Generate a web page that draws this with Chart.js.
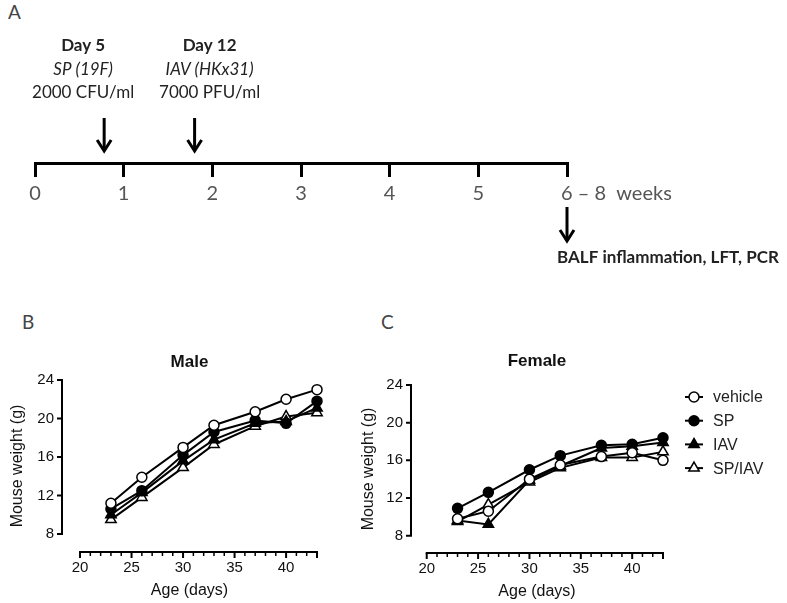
<!DOCTYPE html>
<html>
<head>
<meta charset="utf-8">
<script src="https://cdn.jsdelivr.net/npm/chart.js@4.4.1/dist/chart.umd.min.js"></script>
<style>
  html, body { margin: 0; padding: 0; background: #fff; }
  body { width: 787px; height: 603px; position: relative; overflow: hidden; }
  .box { position: absolute; }
  .panel-label { position: absolute; font-family: Lato, sans-serif; font-size: 19px; color: #444; line-height: 24px; }
</style>
</head>
<body>
<div class="panel-label" style="left:8px; top:0px;">A</div>
<div class="panel-label" style="left:22px; top:310px;">B</div>
<div class="panel-label" style="left:381px; top:310px;">C</div>
<div class="box" style="left:0; top:0; width:787px; height:290px;"><canvas id="timeline"></canvas></div>
<div class="box" style="left:0; top:340px; width:345px; height:263px;"><canvas id="male"></canvas></div>
<div class="box" style="left:345px; top:340px; width:442px; height:263px;"><canvas id="female"></canvas></div>

<script>
// Panel A: infection timeline (weeks)
const weeks = [0, 1, 2, 3, 4, 5, 6];
const lastWeekLabel = '6 \u2013 8  weeks';
const doseWeeks = [0.78, 1.8];
const doseText = [
  ['Day 5', 'SP (19F)', '2000 CFU/ml'],
  ['Day 12', 'IAV (HKx31)', '7000 PFU/ml']
];
const endpointText = 'BALF inflammation, LFT, PCR';

// Panels B and C: body weight by age
const ages = [23, 26, 30, 33, 37, 40, 43];
const seriesNames = ['vehicle', 'SP', 'IAV', 'SP/IAV'];
const maleVehicle = [11.2, 13.9, 17.0, 19.3, 20.7, 22.0, 23.0];
const maleSP      = [10.6, 12.5, 16.2, 18.6, 19.8, 19.5, 21.8];
const maleIAV     = [10.0, 12.3, 15.6, 17.8, 19.5, 19.7, 21.1];
const maleSPIAV   = [9.5, 11.8, 14.9, 17.3, 19.2, 20.2, 20.6];
const femaleVehicle = [9.8, 10.6, 14.0, 15.5, 16.4, 16.8, 16.0];
const femaleSP      = [10.9, 12.6, 15.0, 16.5, 17.6, 17.7, 18.4];
const femaleIAV     = [9.6, 9.2, 13.9, 15.4, 17.3, 17.5, 17.9];
const femaleSPIAV   = [9.5, 11.3, 13.7, 15.2, 16.3, 16.3, 16.9];
const yTicks = [8, 12, 16, 20, 24];
const xTicks = [20, 25, 30, 35, 40];
const xEnd = 43;

const markers = [
  { pointStyle: 'circle', fill: '#fff', radius: 5 },
  { pointStyle: 'circle', fill: '#000', radius: 5 },
  { pointStyle: 'triangle', fill: '#000', radius: 6 },
  { pointStyle: 'triangle', fill: '#fff', radius: 6 }
];

const SANS = '"Liberation Sans", Arial, sans-serif';

// draws the separated Prism-style axes, panel title and (optional) legend
const prismAxes = {
  id: 'prismAxes',
  beforeDatasetsDraw(chart, args, o) {
    const { ctx, chartArea, scales: { x, y } } = chart;
    ctx.save();
    ctx.strokeStyle = '#000';
    ctx.lineWidth = 2;
    // y axis
    const left = chartArea.left;
    const yb = y.getPixelForValue(yTicks[0]);
    const yt = y.getPixelForValue(yTicks[yTicks.length - 1]);
    ctx.beginPath();
    ctx.moveTo(left, yb + 1);
    ctx.lineTo(left, yt - 1);
    yTicks.forEach(v => {
      const p = y.getPixelForValue(v);
      ctx.moveTo(left + 1, p);
      ctx.lineTo(left - 5, p);
    });
    ctx.stroke();
    // x axis with minor day ticks
    const bottom = chartArea.bottom;
    const xl = x.getPixelForValue(xTicks[0]);
    const xr = x.getPixelForValue(xEnd);
    ctx.beginPath();
    ctx.moveTo(xl - 1, bottom);
    ctx.lineTo(xr + 1, bottom);
    ctx.stroke();
    for (let d = xTicks[0]; d <= xEnd; d++) {
      const p = x.getPixelForValue(d);
      const major = xTicks.includes(d) || d === xEnd;
      ctx.lineWidth = major ? 2 : 1.5;
      ctx.beginPath();
      ctx.moveTo(p, bottom);
      ctx.lineTo(p, bottom + (major ? 6 : 4));
      ctx.stroke();
    }
    ctx.restore();
  },
  afterDraw(chart, args, o) {
    const { ctx, chartArea } = chart;
    ctx.save();
    ctx.fillStyle = '#111';
    ctx.font = 'bold 17px ' + SANS;
    ctx.textAlign = 'center';
    ctx.textBaseline = 'middle';
    ctx.fillText(o.title, (chartArea.left + chartArea.right) / 2, o.titleY);
    if (o.legend) {
      const L = o.legend;
      chart.data.datasets.forEach((ds, i) => {
        const yy = L.y + i * L.gap;
        ctx.strokeStyle = '#000';
        ctx.lineWidth = 2;
        ctx.beginPath();
        ctx.moveTo(L.x - 9, yy);
        ctx.lineTo(L.x + 9, yy);
        ctx.stroke();
        ctx.lineWidth = 1.5;
        ctx.fillStyle = ds.pointBackgroundColor;
        ctx.beginPath();
        Chart.helpers.drawPoint(ctx, { pointStyle: ds.pointStyle, radius: ds.pointRadius, borderWidth: 1.5 }, L.x, yy);
        ctx.fillStyle = '#222';
        ctx.font = '16px ' + SANS;
        ctx.textAlign = 'left';
        ctx.fillText(ds.label, L.x + 19, yy + 1);
      });
    }
    ctx.restore();
  }
};

function makeDatasets(values) {
  return values.map((vals, i) => ({
    label: seriesNames[i],
    data: ages.map((a, j) => ({ x: a, y: vals[j] })),
    borderColor: '#000',
    borderWidth: 2,
    pointStyle: markers[i].pointStyle,
    pointRadius: markers[i].radius,
    pointBackgroundColor: markers[i].fill,
    pointBorderColor: '#000',
    pointBorderWidth: 1.5,
    tension: 0,
    clip: false,
    order: i
  }));
}

function weightChart(id, values, cfg) {
  new Chart(document.getElementById(id), {
    type: 'line',
    data: { datasets: makeDatasets(values) },
    options: {
      responsive: true,
      maintainAspectRatio: false,
      animation: false,
      layout: { padding: { left: 0, top: cfg.top, right: cfg.right, bottom: 0 } },
      plugins: {
        legend: { display: false },
        tooltip: { enabled: false },
        prismAxes: { title: cfg.title, titleY: cfg.titleY, legend: cfg.legend }
      },
      scales: {
        x: {
          type: 'linear',
          min: cfg.xMin,
          max: xEnd,
          border: { display: false },
          grid: { display: false, drawTicks: false },
          afterBuildTicks: s => { s.ticks = xTicks.map(v => ({ value: v })); },
          afterFit: s => { s.height = cfg.xHeight; },
          ticks: { color: '#111', font: { family: SANS, size: 15 }, padding: 7, autoSkip: false, maxRotation: 0 },
          title: { display: true, text: 'Age (days)', color: '#111', font: { family: SANS, size: 16 }, padding: { top: 0, bottom: cfg.xTitlePad } }
        },
        y: {
          min: cfg.yMin,
          max: 24,
          border: { display: false },
          grid: { display: false, drawTicks: false },
          afterBuildTicks: s => { s.ticks = yTicks.map(v => ({ value: v })); },
          afterFit: s => { s.width = cfg.yWidth; },
          ticks: { color: '#111', font: { family: SANS, size: 15 }, padding: 8 },
          title: { display: true, text: 'Mouse weight (g)', color: '#111', font: { family: SANS, size: 16 }, padding: { top: cfg.yTitlePad, bottom: 0 } }
        }
      }
    },
    plugins: [prismAxes]
  });
}

weightChart('male', [maleVehicle, maleSP, maleIAV, maleSPIAV], {
  title: 'Male', titleY: 22,
  top: 40, right: 28, xHeight: 51, yWidth: 62,
  xMin: 18.25, yMin: 6.13,
  xTitlePad: 3, yTitlePad: 8
});

weightChart('female', [femaleVehicle, femaleSP, femaleIAV, femaleSPIAV], {
  title: 'Female', titleY: 21,
  top: 45, right: 124, xHeight: 50, yWidth: 66,
  xMin: 18.47, yMin: 6.16,
  xTitlePad: 2, yTitlePad: 14,
  legend: { x: 349, y: 57, gap: 23.7 }
});

// timeline annotations: arrows and text
const timelineNotes = {
  id: 'timelineNotes',
  afterDraw(chart) {
    const { ctx, scales: { x } } = chart;
    ctx.save();
    ctx.strokeStyle = '#000';
    ctx.fillStyle = '#222';
    ctx.lineWidth = 3;
    ctx.textAlign = 'center';
    ctx.textBaseline = 'middle';
    const arrow = (px, y0, y1) => {
      ctx.beginPath();
      ctx.moveTo(px, y0);
      ctx.lineTo(px, y1 - 2);
      ctx.stroke();
      ctx.beginPath();
      ctx.moveTo(px - 7, y1 - 11);
      ctx.lineTo(px, y1);
      ctx.lineTo(px + 7, y1 - 11);
      ctx.stroke();
    };
    const styles = ['bold 17px Lato', 'italic 17px Lato', '17px Lato'];
    const textShift = [-21, 15];
    doseWeeks.forEach((w, i) => {
      const px = x.getPixelForValue(w);
      arrow(px, 118, 151);
      doseText[i].forEach((t, k) => {
        ctx.font = styles[k];
        ctx.fillText(t, px + textShift[i], 46 + k * 23.5);
      });
    });
    const pe = x.getPixelForValue(weeks[weeks.length - 1]);
    arrow(pe, 207, 241);
    ctx.font = 'bold 17px Lato';
    ctx.textAlign = 'left';
    ctx.fillText(endpointText, pe - 10, 258);
    ctx.font = '20px Lato';
    ctx.fillStyle = '#555';
    ctx.fillText(lastWeekLabel, pe - 6, 194);
    ctx.restore();
  }
};

new Chart(document.getElementById('timeline'), {
  type: 'line',
  data: { datasets: [] },
  options: {
    responsive: true,
    maintainAspectRatio: false,
    animation: false,
    layout: { padding: { left: 35, right: 220, top: 0, bottom: 0 } },
    plugins: { legend: { display: false }, tooltip: { enabled: false } },
    scales: {
      x: {
        type: 'linear',
        min: weeks[0],
        max: weeks[weeks.length - 1],
        border: { display: true, width: 3, color: '#000' },
        grid: { drawOnChartArea: false, drawTicks: true, tickLength: 14, lineWidth: 3, color: '#000' },
        afterBuildTicks: s => { s.ticks = weeks.map(v => ({ value: v })); },
        afterFit: s => { s.height = 127; },
        ticks: {
          color: '#555',
          font: { family: 'Lato', size: 20 },
          padding: 5,
          autoSkip: false,
          maxRotation: 0,
          callback: v => (v === weeks[weeks.length - 1] ? '' : v)
        }
      },
      y: { display: false, min: 0, max: 1 }
    }
  },
  plugins: [timelineNotes]
});
</script>
</body>
</html>
